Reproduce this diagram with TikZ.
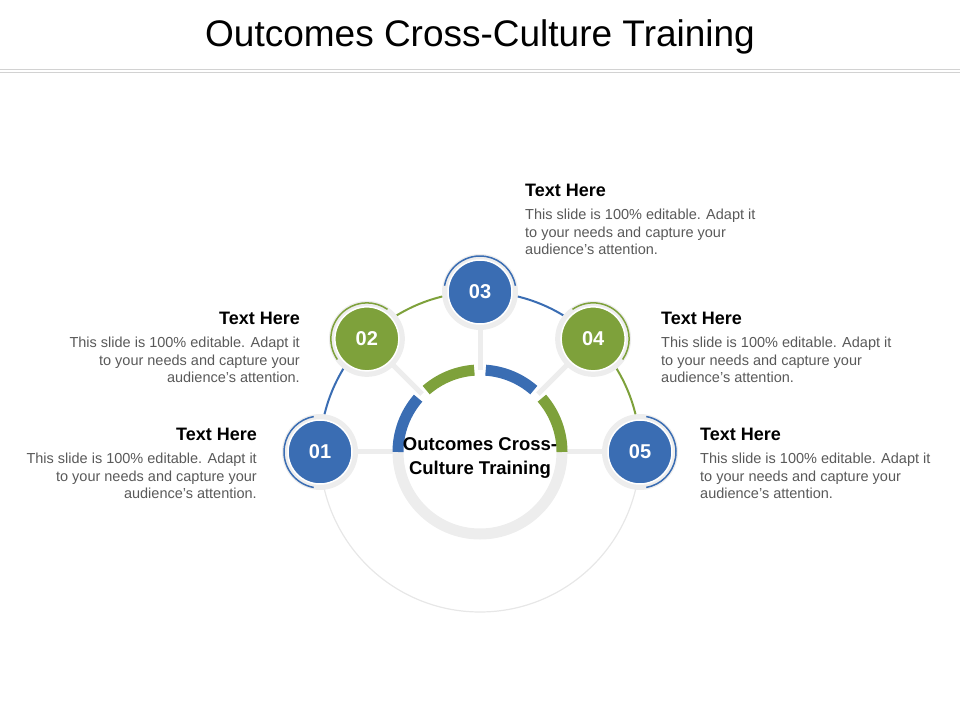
\documentclass[tikz,border=0pt]{standalone}
\usepackage{fontspec}
\setmainfont{Liberation Sans}
\definecolor{cblue}{HTML}{3A6DB3}
\definecolor{cgreen}{HTML}{7EA13B}
\definecolor{cgray}{HTML}{EDEDED}
\definecolor{ctext}{HTML}{595959}
\tikzset{
  num/.style={circle, draw=white, line width=1.5pt, minimum size=64pt, inner sep=0,
    text=white, font=\fontsize{20}{20}\selectfont\bfseries},
  halo/.style={circle, fill=cgray, minimum size=76pt, inner sep=0},
  head/.style={font=\fontsize{18}{20}\selectfont\bfseries, inner sep=0},
  body/.style={font=\fontsize{14.5}{17.5}\selectfont, text=ctext, inner sep=0}
}
\begin{document}
\begin{tikzpicture}[x=1pt, y=1pt, line cap=butt]
  \useasboundingbox (0,0) rectangle (960,720);
  % title
  \node[font=\fontsize{37}{40}\selectfont] (title) at (480,683) {Outcomes Cross-Culture Training};
  \draw[gray!35, line width=0.8pt] (0,651) -- (960,651);
  \draw[gray!35, line width=0.8pt] (0,648) -- (960,648);

  \coordinate (c) at (480,268);
  % big circle
  \draw[cgray!80!gray!60, line width=1.2pt] ([shift={(180:160)}]c) arc (180:360:160);
  \draw[cblue, line width=2pt] ([shift={(167:160)}]c) arc (167:148:160);
  \draw[cgreen, line width=2pt] ([shift={(122:160)}]c) arc (122:103:160);
  \draw[cblue, line width=2pt] ([shift={(77:160)}]c) arc (77:58:160);
  \draw[cgreen, line width=2pt] ([shift={(32:160)}]c) arc (32:13:160);

  % spokes
  \foreach \a in {0,45,90,135,180}
    \draw[cgray, line width=5pt] ([shift={(\a:82)}]c) -- ([shift={(\a:150)}]c);

  % inner ring
  \draw[cgray, line width=11pt] ([shift={(180:82)}]c) arc (180:360:82);
  \draw[cblue, line width=11pt] ([shift={(180:82)}]c) arc (180:139:82);
  \draw[cgreen, line width=11pt] ([shift={(131:82)}]c) arc (131:94:82);
  \draw[cblue, line width=11pt] ([shift={(86:82)}]c) arc (86:49:82);
  \draw[cgreen, line width=11pt] ([shift={(41:82)}]c) arc (41:0:82);
  \node[font=\fontsize{18.5}{24}\selectfont\bfseries, align=center] (centre) at (480,262)
    {Outcomes Cross-\\Culture Training};

  % numbered nodes
  \foreach \a/\n/\col in {180/01/cblue, 135/02/cgreen, 90/03/cblue, 45/04/cgreen, 0/05/cblue} {
    \node[halo] (h\n) at ([shift={(\a:160)}]c) {};
    \draw[\col, line width=1.5pt] ([shift={(\a+80:36)}]h\n.center) arc (\a+80:\a-80:36);
    \node[num, fill=\col] (n\n) at (h\n.center) {\n};
  }

  % texts
  \node[head, anchor=west] (t3) at (525,530) {Text Here};
  \node[body, anchor=north west, align=left] (b3) at (525,511)
    {This slide is 100\% editable. Adapt it\\to your needs and capture your\\audience's attention.};
  \node[head, anchor=east] (t2) at (300,402) {Text Here};
  \node[body, anchor=north east, align=right] (b2) at (300,383)
    {This slide is 100\% editable. Adapt it\\to your needs and capture your\\audience's attention.};
  \node[head, anchor=east] (t1) at (257,286) {Text Here};
  \node[body, anchor=north east, align=right] (b1) at (257,267)
    {This slide is 100\% editable. Adapt it\\to your needs and capture your\\audience's attention.};
  \node[head, anchor=west] (t4) at (661,402) {Text Here};
  \node[body, anchor=north west, align=left] (b4) at (661,383)
    {This slide is 100\% editable. Adapt it\\to your needs and capture your\\audience's attention.};
  \node[head, anchor=west] (t5) at (700,286) {Text Here};
  \node[body, anchor=north west, align=left] (b5) at (700,267)
    {This slide is 100\% editable. Adapt it\\to your needs and capture your\\audience's attention.};
\end{tikzpicture}
\end{document}
